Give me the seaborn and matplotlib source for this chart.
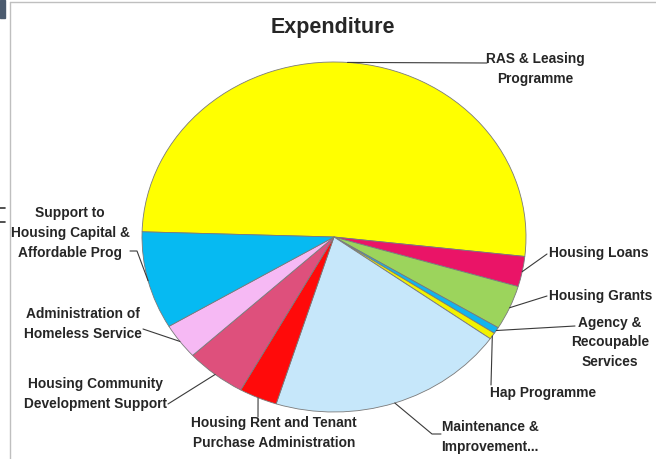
import numpy as np
import matplotlib
matplotlib.use("Agg")
import matplotlib.pyplot as plt
import seaborn as sns

# --- data (share of expenditure, %) ---
categories = ["RAS & Leasing\nProgramme", "Housing Loans", "Housing Grants",
              "Agency &\nRecoupable\nServices", "Hap Programme",
              "Maintenance &\nImprovement...",
              "Housing Rent and Tenant\nPurchase Administration",
              "Housing Community\nDevelopment Support",
              "Administration of\nHomeless Service",
              "Support to\nHousing Capital &\nAffordable Prog"]
values = [51.3, 2.8, 4.1, 0.6, 0.6, 20.0, 3.2, 5.1, 3.3, 9.0]
colors = ["#FFFF00", "#EA1467", "#9CD45C", "#12B4EE", "#F2F200",
          "#C6E7FA", "#FF0A0A", "#DE507C", "#F6B9F4", "#06BAF2"]

# --- layout (pixel positions in the 656x459 figure) ---
W, H = 656, 459
CX, CY, RX, RY = 334, 237, 192, 175
# label: (text x, text y, ha, leader elbow points)
label_layout = [
    (535, 69, "center", [(487, 63)]),
    (549, 253, "left", [(547, 254)]),
    (549, 296, "left", [(547, 296)]),
    (610, 342, "center", [(575, 326)]),
    (543, 393, "center", [(491, 385)]),
    (490, 437, "center", [(432, 434), (441, 434)]),
    (274, 433, "center", [(258, 417)]),
    (95, 394, "center", [(168, 404)]),
    (83, 324, "center", [(143, 329)]),
    (70, 233, "center", [(137, 251), (130, 251)]),
]

sns.set_theme(style="white")
plt.rcParams["font.family"] = ["Liberation Sans", "DejaVu Sans"]
text_col = "#262626"

fig = plt.figure(figsize=(W / 100, H / 100), dpi=100)
ax = fig.add_axes([(CX - RX) / W, (H - CY - RY) / H, 2 * RX / W, 2 * RY / H])

wedges, _ = ax.pie(values, colors=colors, startangle=178.3, counterclock=False,
                   wedgeprops=dict(edgecolor="#7a7a7a", linewidth=0.6))
ax.set_aspect("auto")
ax.set_xlim(-1, 1)
ax.set_ylim(-1, 1)
ax.axis("off")


def px2d(px, py):
    return (px - CX) / RX, (CY - py) / RY


for w, lab, (tx, ty, ha, pts) in zip(wedges, categories, label_layout):
    tm = np.deg2rad((w.theta1 + w.theta2) / 2)
    xs = [np.cos(tm)] + [px2d(*p)[0] for p in pts]
    ys = [np.sin(tm)] + [px2d(*p)[1] for p in pts]
    ax.plot(xs, ys, color="#3a3a3a", lw=0.8, clip_on=False)
    x, y = px2d(tx, ty)
    ax.text(x, y, lab, ha=ha, va="center", multialignment="center",
            fontsize=9.9, fontweight="bold", color=text_col,
            linespacing=1.5, clip_on=False)

fig.text(333 / W, 1 - 27 / H, "Expenditure", ha="center", va="center",
         fontsize=15.5, fontweight="bold", color=text_col)

# chart frame and page bits around it
fig.add_artist(plt.Line2D([10 / W, 10 / W], [0, 1 - 2 / H], transform=fig.transFigure,
                          color="#BFBFBF", lw=1))
fig.add_artist(plt.Line2D([10 / W, 1], [1 - 2 / H, 1 - 2 / H], transform=fig.transFigure,
                          color="#BFBFBF", lw=1))
fig.add_artist(plt.Rectangle((0, 1 - 18 / H), 5 / W, 18 / H, transform=fig.transFigure,
                             color="#4A5A6E"))
for yy in (208, 222):
    fig.add_artist(plt.Line2D([0, 5 / W], [1 - yy / H] * 2, transform=fig.transFigure,
                              color="#333333", lw=1.2))

fig.savefig("out.png", dpi=100)
